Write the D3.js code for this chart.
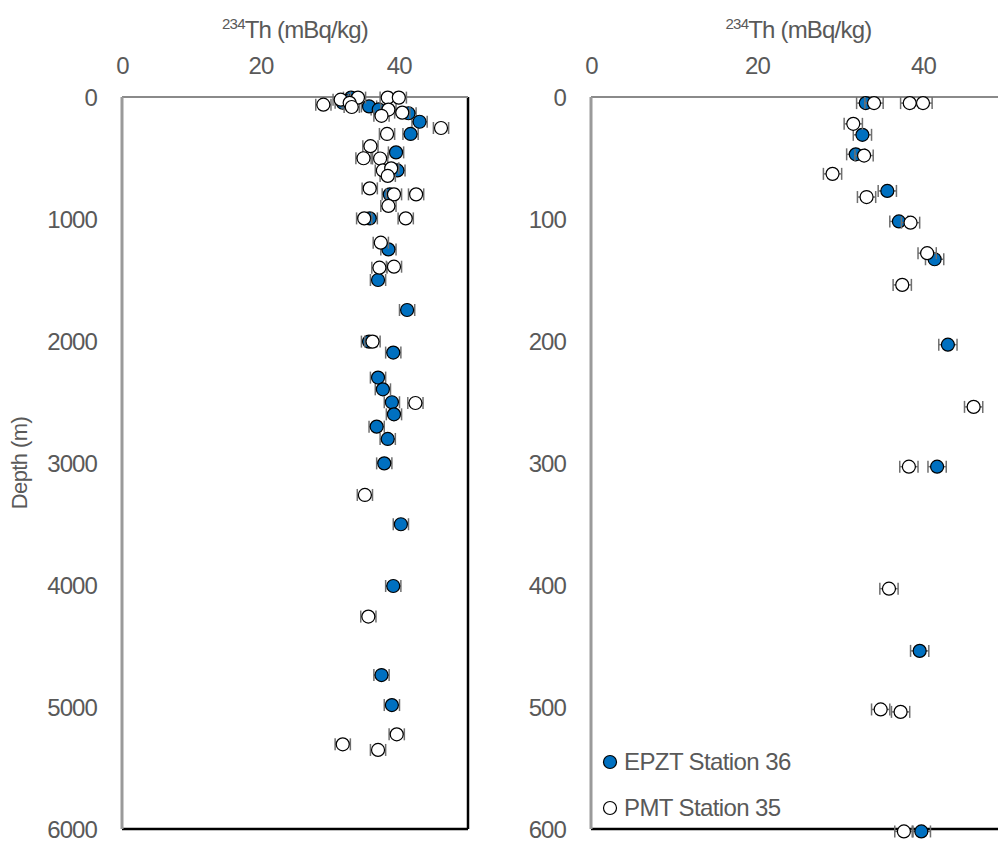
<!DOCTYPE html>
<html>
<head>
<meta charset="utf-8">
<script src="https://cdn.jsdelivr.net/npm/d3@7"></script>
<style>
  html, body { margin: 0; padding: 0; background: #fff; }
  svg { display: block; font-family: "Liberation Sans", Arial, sans-serif; }
  .axis text { fill: #595959; font-size: 24px; letter-spacing: -0.9px; }
  .axis .domain { display: none; }
</style>
</head>
<body>
<div id="chart"></div>
<script>
// upper 600 m (shown in both panels) : [depth m, 234Th mBq/kg, error]
const epztUpper = [
  [5, 33.1, 1.1], [31, 32.7, 1.1], [47, 31.9, 1.1], [77, 35.7, 1.1], [102, 37.1, 1.1],
  [133, 41.4, 1.1], [203, 43.0, 1.1], [303, 41.7, 1.1], [454, 39.6, 1.1], [602, 39.8, 1.1]
];
const pmtUpper = [
  [5, 34.1, 1.1], [5, 38.4, 1.1], [5, 40.0, 1.1], [22, 31.6, 1.1], [48, 32.9, 1.1],
  [63, 29.1, 1.1], [82, 33.2, 1.1], [103, 38.5, 1.1], [128, 40.5, 1.1], [154, 37.5, 1.1],
  [254, 46.1, 1.1], [303, 38.3, 1.1], [403, 35.9, 1.1], [502, 34.9, 1.1], [504, 37.3, 1.1],
  [602, 37.7, 1.1]
];
// deeper samples, full profile only
const epztDeep = [
  [798, 38.7, 1.1], [995, 35.8, 1.1], [1249, 38.5, 1.1], [1500, 37.0, 1.1], [1746, 41.2, 1.1],
  [2005, 35.7, 1.1], [2095, 39.2, 1.1], [2300, 37.0, 1.1], [2396, 37.7, 1.1], [2502, 39.0, 1.1],
  [2601, 39.3, 1.1], [2702, 36.8, 1.1], [2803, 38.4, 1.1], [3003, 37.9, 1.1], [3502, 40.3, 1.1],
  [4008, 39.2, 1.1], [4738, 37.5, 1.1], [4984, 39.0, 1.1]
];
const pmtDeep = [
  [585, 38.9, 1.1], [647, 38.4, 1.1], [749, 35.8, 1.1], [798, 39.3, 1.1], [798, 42.5, 1.1],
  [893, 38.5, 1.1], [995, 35.0, 1.1], [995, 41.0, 1.1], [1194, 37.4, 1.1], [1391, 39.3, 1.1],
  [1399, 37.2, 1.1], [2005, 36.2, 1.1], [2508, 42.4, 1.1], [3262, 35.1, 1.1], [4259, 35.6, 1.1],
  [5224, 39.7, 1.1], [5306, 31.9, 1.1], [5352, 37.0, 1.1]
];

const xTicks = [0, 20, 40];
const depthTicksFull = [0, 1000, 2000, 3000, 4000, 5000, 6000];
const depthTicksUpper = [0, 100, 200, 300, 400, 500, 600];
const legendLabels = ["EPZT Station 36", "PMT Station 35"];

const W = 998, H = 845;
const blue = "#0070C0";

const svg = d3.select("#chart").append("svg")
  .attr("width", W).attr("height", H)
  .style("overflow", "hidden");

function panel(x, y, yTicks, blueData, whiteData) {
  const [x0, x1] = x.range();
  const [y0, y1] = y.range();

  svg.append("g").attr("class", "axis")
    .attr("transform", `translate(0,${y0 - 23})`)
    .call(d3.axisTop(x).tickValues(xTicks).tickSize(0).tickPadding(0));

  svg.append("g").attr("class", "axis")
    .attr("transform", `translate(${x0 - 25},0)`)
    .call(d3.axisLeft(y).tickValues(yTicks).tickFormat(d3.format("d")).tickSize(0).tickPadding(0))
    .selectAll("text").attr("dy", "0.35em");

  // title
  const t = svg.append("text")
    .attr("x", (x0 + x1) / 2).attr("y", 38)
    .attr("text-anchor", "middle")
    .style("font-size", "24px").style("letter-spacing", "-0.8px").style("fill", "#595959");
  t.append("tspan").attr("dy", "-9").style("font-size", "15px").text("234");
  t.append("tspan").attr("dy", "9").text("Th (mBq/kg)");

  // frame: black right/bottom, grey top/left
  svg.append("line").attr("x1", x0).attr("x2", x1).attr("y1", y1).attr("y2", y1)
    .attr("stroke", "#000").attr("stroke-width", 2.5);
  svg.append("line").attr("x1", x1).attr("x2", x1).attr("y1", y0).attr("y2", y1)
    .attr("stroke", "#000").attr("stroke-width", 2.5);
  svg.append("line").attr("x1", x0).attr("x2", x1).attr("y1", y0).attr("y2", y0)
    .attr("stroke", "#8a8a8a").attr("stroke-width", 2);
  svg.append("line").attr("x1", x0).attr("x2", x0).attr("y1", y0).attr("y2", y1)
    .attr("stroke", "#9a9a9a").attr("stroke-width", 3);

  const series = [
    { data: blueData, fill: blue },
    { data: whiteData, fill: "#fff" }
  ];

  series.forEach(s => {
    const g = svg.append("g");
    const eb = g.selectAll("g.err").data(s.data).join("g").attr("class", "err")
      .attr("stroke", "#6f6f6f").attr("stroke-width", 1.5);
    eb.append("line")
      .attr("x1", d => x(d[1] - d[2])).attr("x2", d => x(d[1] + d[2]))
      .attr("y1", d => y(d[0])).attr("y2", d => y(d[0]));
    eb.append("line")
      .attr("x1", d => x(d[1] - d[2])).attr("x2", d => x(d[1] - d[2]))
      .attr("y1", d => y(d[0]) - 6).attr("y2", d => y(d[0]) + 6);
    eb.append("line")
      .attr("x1", d => x(d[1] + d[2])).attr("x2", d => x(d[1] + d[2]))
      .attr("y1", d => y(d[0]) - 6).attr("y2", d => y(d[0]) + 6);
    g.selectAll("circle").data(s.data).join("circle")
      .attr("cx", d => x(d[1])).attr("cy", d => y(d[0]))
      .attr("r", 6.5)
      .attr("fill", s.fill).attr("stroke", "#000").attr("stroke-width", 1.2);
  });
}

const xL = d3.scaleLinear().domain([0, 50]).range([122, 468]);
const yL = d3.scaleLinear().domain([0, 6000]).range([97, 829]);
panel(xL, yL, depthTicksFull, epztUpper.concat(epztDeep), pmtUpper.concat(pmtDeep));

const xR = d3.scaleLinear().domain([0, 50]).range([591, 1006]);
const yR = d3.scaleLinear().domain([0, 600]).range([97, 829]);
panel(xR, yR, depthTicksUpper, epztUpper, pmtUpper);

// depth label
svg.append("text")
  .attr("transform", `translate(19,463) rotate(-90)`)
  .attr("dy", "0.35em")
  .attr("text-anchor", "middle")
  .style("font-size", "22px").style("letter-spacing", "-0.6px").style("fill", "#595959")
  .text("Depth (m)");

// legend
const legend = svg.append("g");
[blue, "#fff"].forEach((c, i) => {
  legend.append("circle")
    .attr("cx", 610).attr("cy", 762 + i * 46).attr("r", 6.5)
    .attr("fill", c).attr("stroke", "#000").attr("stroke-width", 1.2);
  legend.append("text")
    .attr("x", 624).attr("y", 762 + i * 46).attr("dy", "0.35em")
    .style("font-size", "24px").style("letter-spacing", "-0.6px").style("fill", "#595959")
    .text(legendLabels[i]);
});
</script>
</body>
</html>
